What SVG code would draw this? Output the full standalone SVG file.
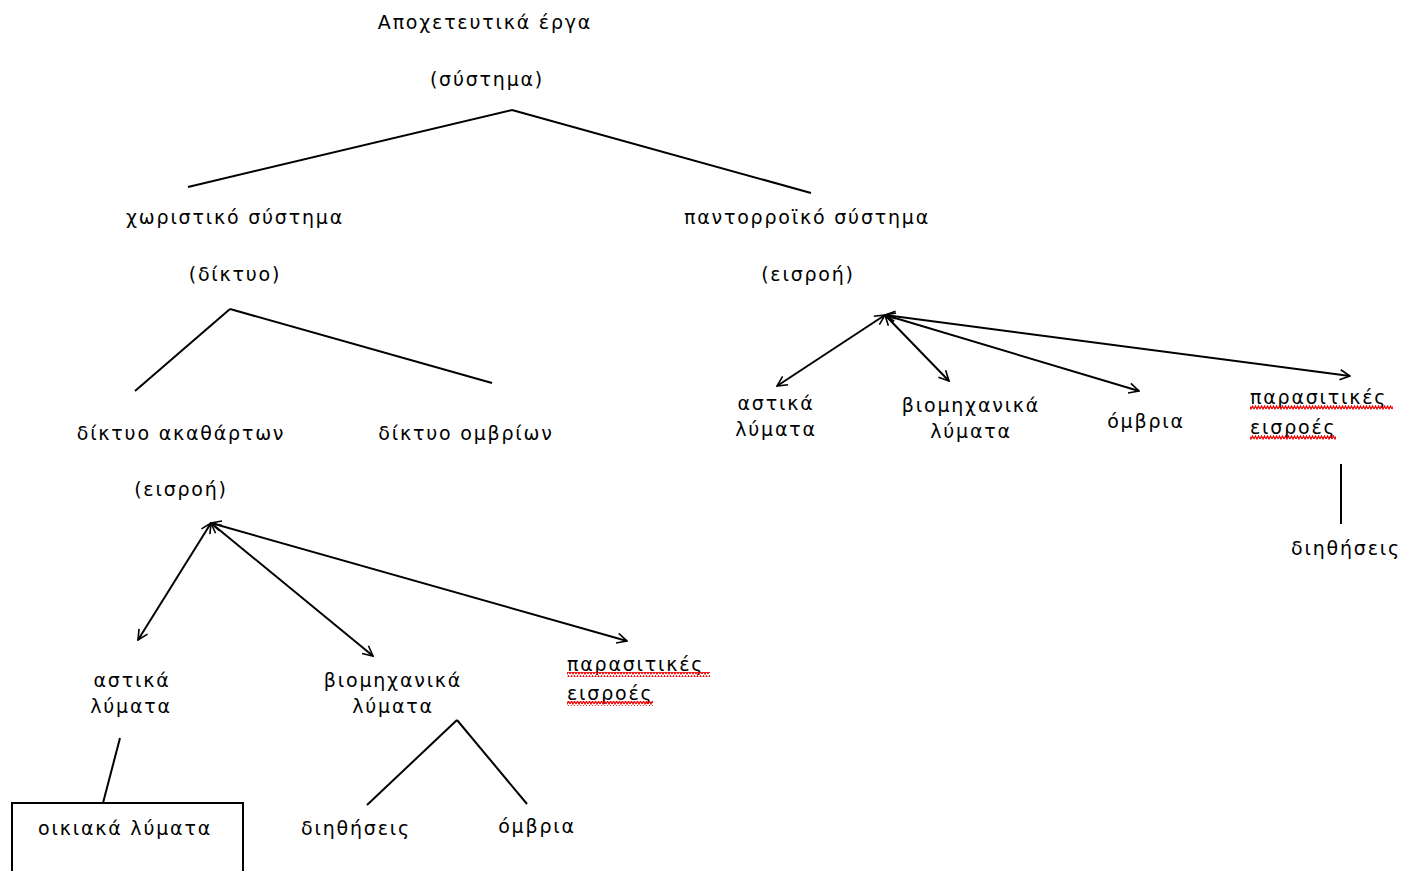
<svg xmlns="http://www.w3.org/2000/svg" width="1406" height="871" viewBox="0 0 1406 871">
<style>
text{font-family:"DejaVu Sans","Liberation Sans",sans-serif;font-size:19px;letter-spacing:1.8px;fill:#000}
.c{text-anchor:middle}
.ln{stroke:#000;stroke-width:2;fill:none}
</style>
<defs>
<marker id="ah" viewBox="0 0 12 12" refX="11" refY="6" markerWidth="12" markerHeight="12" markerUnits="userSpaceOnUse" orient="auto-start-reverse">
<path d="M1,1 L11,6 L1,11" fill="none" stroke="#000" stroke-width="1.6"/>
</marker>
<pattern id="wave" width="6" height="5" patternUnits="userSpaceOnUse">
<path d="M0,4 L1.5,1 L3,4 L4.5,1 L6,4" stroke="#e00" stroke-width="1.2" fill="none"/>
</pattern>
</defs>
<rect width="1406" height="871" fill="#fff"/>
<g id="connectors">
<line class="ln" x1="512" y1="110" x2="188" y2="187"/>
<line class="ln" x1="512" y1="110" x2="811" y2="193"/>
<line class="ln" x1="230" y1="309" x2="135" y2="391"/>
<line class="ln" x1="230" y1="309" x2="492" y2="383"/>
<line class="ln" x1="211" y1="523" x2="138" y2="640" marker-start="url(#ah)" marker-end="url(#ah)"/>
<line class="ln" x1="211" y1="523" x2="373" y2="656" marker-start="url(#ah)" marker-end="url(#ah)"/>
<line class="ln" x1="211" y1="523" x2="627" y2="641" marker-start="url(#ah)" marker-end="url(#ah)"/>
<line class="ln" x1="885" y1="315" x2="777" y2="386" marker-start="url(#ah)" marker-end="url(#ah)"/>
<line class="ln" x1="885" y1="315" x2="949" y2="381" marker-start="url(#ah)" marker-end="url(#ah)"/>
<line class="ln" x1="885" y1="315" x2="1139" y2="391" marker-start="url(#ah)" marker-end="url(#ah)"/>
<line class="ln" x1="885" y1="315" x2="1350" y2="376" marker-start="url(#ah)" marker-end="url(#ah)"/>
<line class="ln" x1="120" y1="738" x2="103" y2="803"/>
<line class="ln" x1="457" y1="720" x2="367" y2="805"/>
<line class="ln" x1="457" y1="720" x2="527" y2="804"/>
<line class="ln" x1="1341" y1="464" x2="1341" y2="524"/>
</g>
<g id="root">
<text class="c" x="485" y="29">Αποχετευτικά έργα</text>
<text class="c" x="487" y="86">(σύστημα)</text>
</g>
<g id="separate">
<text class="c" x="235" y="224">χωριστικό σύστημα</text>
<text class="c" x="235" y="281">(δίκτυο)</text>
</g>
<g id="combined">
<text class="c" x="807" y="224">παντορροϊκό σύστημα</text>
<text class="c" x="808" y="281">(εισροή)</text>
</g>
<g id="sewage-net">
<text class="c" x="181" y="440">δίκτυο ακαθάρτων</text>
<text class="c" x="181" y="496">(εισροή)</text>
</g>
<g id="storm-net">
<text class="c" x="466" y="440">δίκτυο ομβρίων</text>
</g>
<g id="c-urban">
<text class="c" x="776" y="410">αστικά</text>
<text class="c" x="776" y="436">λύματα</text>
</g>
<g id="c-industrial">
<text class="c" x="971" y="412">βιομηχανικά</text>
<text class="c" x="971" y="438">λύματα</text>
</g>
<g id="c-storm">
<text class="c" x="1146" y="428">όμβρια</text>
</g>
<g id="c-parasitic">
<text x="1250" y="404">παρασιτικές</text>
<text x="1250" y="434">εισροές</text>
<rect x="1250" y="405" width="143" height="5" fill="url(#wave)"/>
<rect x="1250" y="435" width="86" height="5" fill="url(#wave)"/>
</g>
<g id="c-infiltration">
<text class="c" x="1346" y="555">διηθήσεις</text>
</g>
<g id="s-urban">
<text class="c" x="132" y="687">αστικά</text>
<text class="c" x="131" y="713">λύματα</text>
</g>
<g id="s-industrial">
<text class="c" x="393" y="687">βιομηχανικά</text>
<text class="c" x="393" y="713">λύματα</text>
</g>
<g id="s-parasitic">
<text x="567" y="671">παρασιτικές</text>
<text x="567" y="700">εισροές</text>
<rect x="567" y="672" width="143" height="5" fill="url(#wave)"/>
<rect x="567" y="701" width="86" height="5" fill="url(#wave)"/>
</g>
<g id="household">
<rect x="12" y="803" width="231" height="80" fill="none" stroke="#000" stroke-width="2"/>
<text class="c" x="125" y="835">οικιακά λύματα</text>
</g>
<g id="s-infiltration">
<text class="c" x="356" y="835">διηθήσεις</text>
</g>
<g id="s-storm">
<text class="c" x="537" y="833">όμβρια</text>
</g>
</svg>
